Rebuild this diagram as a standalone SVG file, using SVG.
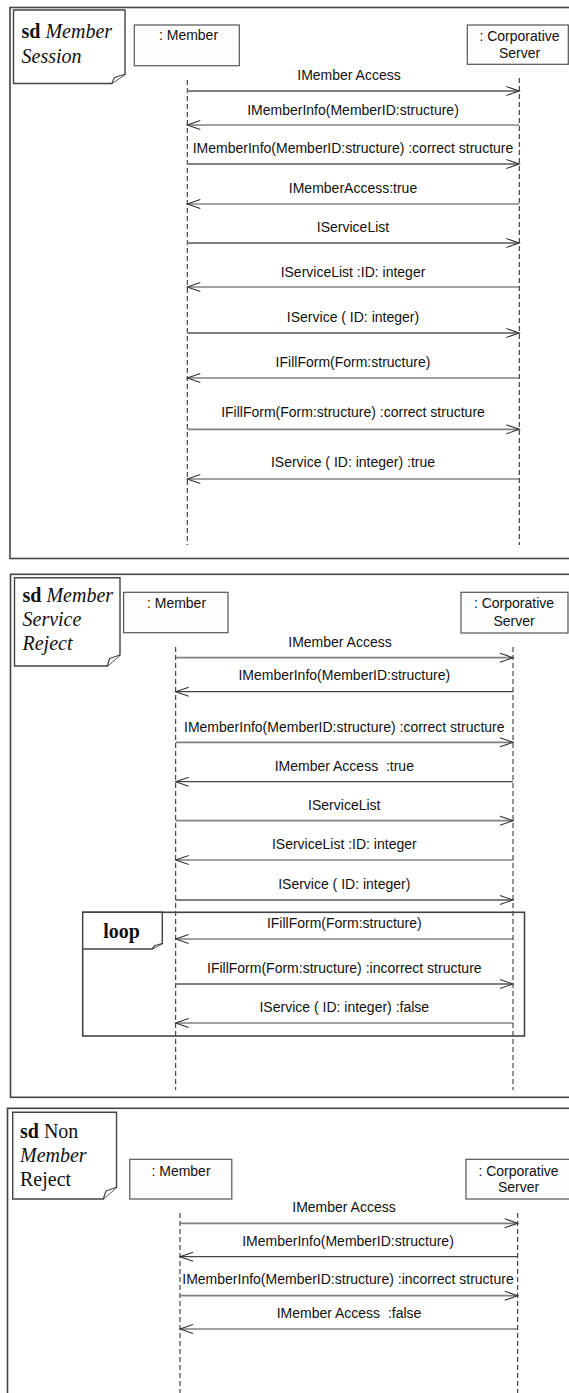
<svg xmlns="http://www.w3.org/2000/svg" width="569" height="1393" viewBox="0 0 569 1393">
  <style>
    .frame { fill: none; stroke: #444; stroke-width: 1.6; }
    .tab { fill: #fff; stroke: #444; stroke-width: 1.4; }
    .flap { fill: #fff; stroke: #444; stroke-width: 1.2; stroke-linejoin: round; }
    .box { fill: #fdfdfd; stroke: #555; stroke-width: 1.2; }
    .life { stroke: #222; stroke-width: 1; stroke-dasharray: 5 3; fill: none; }
    .msg { fill: none; marker-end: url(#open); }
    .call { stroke: #808080; stroke-width: 1.8; }
    .reply { stroke: #444; stroke-width: 1.2; }
    .lbl { font-family: "Liberation Sans", Arial, sans-serif; font-size: 14px; fill: #111; text-anchor: middle; white-space: pre; }
    .sd { font-family: "Liberation Serif", "Times New Roman", serif; font-size: 20px; fill: #111; }
    .b { font-weight: bold; }
    .i { font-style: italic; }
    .loop { font-family: "Liberation Serif", "Times New Roman", serif; font-size: 20px; font-weight: bold; fill: #111; text-anchor: middle; }
  </style>
  <defs>
    <marker id="open" markerUnits="userSpaceOnUse" markerWidth="16" markerHeight="12" refX="13" refY="4.5" orient="auto" overflow="visible">
      <path d="M0,0 L13,4.5 L0,9" fill="none" stroke="#333" stroke-width="1.1"/>
    </marker>
  </defs>
  <rect width="569" height="1393" fill="#fff"/>

  <!-- ===== Diagram 1: Member Session ===== -->
  <g id="frame-member-session">
    <rect class="frame" x="10" y="7.5" width="600" height="551"/>
    <path class="tab" d="M13.5,10 H125 V74.3 L111.7,83.5 H13.5 Z"/>
    <path class="flap" d="M125,74.3 L114.5,77.5 L111.7,83.5"/>
    <text class="sd" x="21.5" y="37.7" font-size="21.5"><tspan class="b">sd</tspan> <tspan class="i">Member</tspan></text>
    <text class="sd i" x="21.5" y="63" font-size="21.5">Session</text>
  </g>
  <g id="s1-member">
    <rect class="box" x="134.3" y="25" width="105" height="40.7"/>
    <text class="lbl" x="188.5" y="40">: Member</text>
    <line class="life" x1="187.3" y1="80" x2="187.3" y2="545"/>
  </g>
  <g id="s1-server">
    <rect class="box" x="467.3" y="25" width="101" height="39.3"/>
    <text class="lbl" x="519.5" y="41">: Corporative</text>
    <text class="lbl" x="519.5" y="58">Server</text>
    <line class="life" x1="519.3" y1="78" x2="519.3" y2="545"/>
  </g>
  <g id="s1-messages">
    <line class="msg call" x1="187.3" y1="91" x2="519.3" y2="91"/>
    <text class="lbl" x="349" y="80">IMember Access</text>
    <line class="msg reply" x1="519.3" y1="125" x2="187.3" y2="125"/>
    <text class="lbl" x="353" y="115">IMemberInfo(MemberID:structure)</text>
    <line class="msg call" x1="187.3" y1="164" x2="519.3" y2="164"/>
    <text class="lbl" x="353" y="152.7">IMemberInfo(MemberID:structure) :correct structure</text>
    <line class="msg reply" x1="519.3" y1="204" x2="187.3" y2="204"/>
    <text class="lbl" x="353" y="192.7">IMemberAccess:true</text>
    <line class="msg call" x1="187.3" y1="243" x2="519.3" y2="243"/>
    <text class="lbl" x="353" y="232">IServiceList</text>
    <line class="msg reply" x1="519.3" y1="287" x2="187.3" y2="287"/>
    <text class="lbl" x="353" y="277">IServiceList :ID: integer</text>
    <line class="msg call" x1="187.3" y1="333" x2="519.3" y2="333"/>
    <text class="lbl" x="353" y="322">IService ( ID: integer)</text>
    <line class="msg reply" x1="519.3" y1="378" x2="187.3" y2="378"/>
    <text class="lbl" x="353" y="367">IFillForm(Form:structure)</text>
    <line class="msg call" x1="187.3" y1="429.3" x2="519.3" y2="429.3"/>
    <text class="lbl" x="353" y="417.3">IFillForm(Form:structure) :correct structure</text>
    <line class="msg reply" x1="519.3" y1="479" x2="187.3" y2="479"/>
    <text class="lbl" x="353" y="467.3">IService ( ID: integer) :true</text>
  </g>

  <!-- ===== Diagram 2: Member Service Reject ===== -->
  <g id="frame-member-service-reject">
    <rect class="frame" x="10.5" y="574.3" width="600" height="523"/>
    <path class="tab" d="M14.5,577.7 H120 V655 L107.3,666 H14.5 Z"/>
    <path class="flap" d="M120,655 L109.5,658.5 L107.3,666"/>
    <text class="sd" x="22.5" y="601.7"><tspan class="b">sd</tspan> <tspan class="i">Member</tspan></text>
    <text class="sd i" x="22.5" y="625.7">Service</text>
    <text class="sd i" x="22.5" y="650">Reject</text>
  </g>
  <g id="s2-member">
    <rect class="box" x="123.6" y="592.3" width="104.4" height="40.4"/>
    <text class="lbl" x="176.5" y="608">: Member</text>
    <line class="life" x1="175.7" y1="647" x2="175.7" y2="1090"/>
  </g>
  <g id="s2-server">
    <rect class="box" x="461" y="592.3" width="107" height="40.7"/>
    <text class="lbl" x="514" y="608">: Corporative</text>
    <text class="lbl" x="514" y="626">Server</text>
    <line class="life" x1="513" y1="647" x2="513" y2="1090"/>
  </g>
  <g id="s2-loop">
    <rect class="frame" x="82.7" y="912.3" width="441.8" height="123.7" stroke-width="1.2"/>
    <path class="tab" d="M82.7,912.3 H162.3 V943.5 L152,949 H82.7 Z" stroke-width="1.2"/>
    <path class="flap" d="M162.3,943.5 L155,945.5 L152,949" stroke-width="1"/>
    <text class="loop" x="121.5" y="938">loop</text>
  </g>
  <g id="s2-messages">
    <line class="msg call" x1="175.7" y1="657.7" x2="513" y2="657.7"/>
    <text class="lbl" x="340" y="646.7">IMember Access</text>
    <line class="msg reply" x1="513" y1="691.7" x2="175.7" y2="691.7"/>
    <text class="lbl" x="344.3" y="680">IMemberInfo(MemberID:structure)</text>
    <line class="msg call" x1="175.7" y1="742.3" x2="513" y2="742.3"/>
    <text class="lbl" x="344.3" y="731.7">IMemberInfo(MemberID:structure) :correct structure</text>
    <line class="msg reply" x1="513" y1="781.7" x2="175.7" y2="781.7"/>
    <text class="lbl" x="344.3" y="771">IMember Access  :true</text>
    <line class="msg call" x1="175.7" y1="820.7" x2="513" y2="820.7"/>
    <text class="lbl" x="344.3" y="810">IServiceList</text>
    <line class="msg reply" x1="513" y1="860" x2="175.7" y2="860"/>
    <text class="lbl" x="344.3" y="849">IServiceList :ID: integer</text>
    <line class="msg call" x1="175.7" y1="900" x2="513" y2="900"/>
    <text class="lbl" x="344.3" y="889">IService ( ID: integer)</text>
    <line class="msg reply" x1="513" y1="939" x2="175.7" y2="939"/>
    <text class="lbl" x="344.3" y="928">IFillForm(Form:structure)</text>
    <line class="msg call" x1="175.7" y1="984" x2="513" y2="984"/>
    <text class="lbl" x="344.3" y="972.7">IFillForm(Form:structure) :incorrect structure</text>
    <line class="msg reply" x1="513" y1="1023" x2="175.7" y2="1023"/>
    <text class="lbl" x="344.3" y="1012">IService ( ID: integer) :false</text>
  </g>

  <!-- ===== Diagram 3: Non Member Reject ===== -->
  <g id="frame-non-member-reject">
    <rect class="frame" x="7.5" y="1108.3" width="600" height="320"/>
    <path class="tab" d="M12.7,1112.3 H116.5 V1187.3 L103.3,1199 H12.7 Z"/>
    <path class="flap" d="M116.5,1187.3 L106,1191 L103.3,1199"/>
    <text class="sd" x="20" y="1138.3"><tspan class="b">sd</tspan> Non</text>
    <text class="sd i" x="20" y="1161.7">Member</text>
    <text class="sd" x="20" y="1185.7">Reject</text>
  </g>
  <g id="s3-member">
    <rect class="box" x="129.8" y="1159.3" width="102" height="39.7"/>
    <text class="lbl" x="181" y="1175.7">: Member</text>
    <line class="life" x1="180" y1="1213" x2="180" y2="1393"/>
  </g>
  <g id="s3-server">
    <rect class="box" x="466" y="1159.3" width="105" height="39.7"/>
    <text class="lbl" x="518.5" y="1175.7">: Corporative</text>
    <text class="lbl" x="518.5" y="1191.7">Server</text>
    <line class="life" x1="517.7" y1="1213" x2="517.7" y2="1393"/>
  </g>
  <g id="s3-messages">
    <line class="msg call" x1="180" y1="1223.3" x2="517.7" y2="1223.3"/>
    <text class="lbl" x="344" y="1212.3">IMember Access</text>
    <line class="msg reply" x1="517.7" y1="1256.7" x2="180" y2="1256.7"/>
    <text class="lbl" x="348" y="1246">IMemberInfo(MemberID:structure)</text>
    <line class="msg call" x1="180" y1="1295.7" x2="517.7" y2="1295.7"/>
    <text class="lbl" x="348" y="1284.3">IMemberInfo(MemberID:structure) :incorrect structure</text>
    <line class="msg reply" x1="517.7" y1="1329" x2="180" y2="1329"/>
    <text class="lbl" x="349" y="1317.7">IMember Access  :false</text>
  </g>
</svg>
